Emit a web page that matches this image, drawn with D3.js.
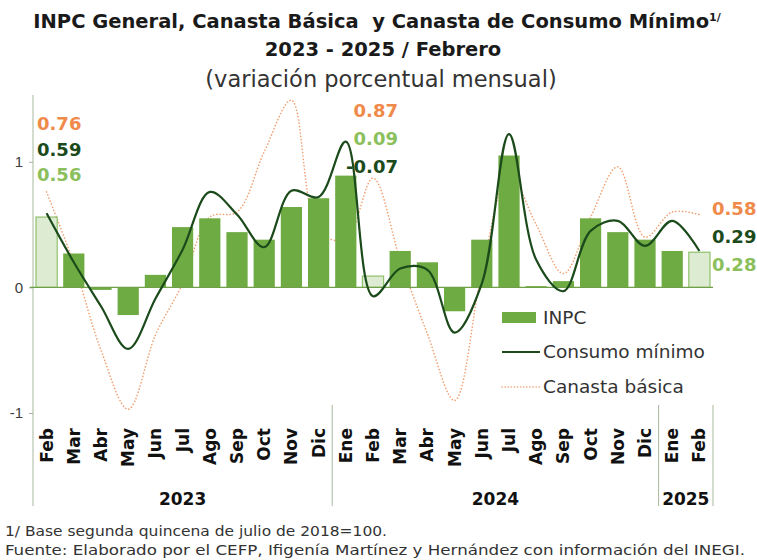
<!DOCTYPE html>
<html>
<head>
<meta charset="utf-8">
<script src="https://cdn.jsdelivr.net/npm/d3@7"></script>
<style>
  body { margin: 0; background: #fff; }
  text { font-family: "DejaVu Sans", sans-serif; white-space: pre; }
</style>
</head>
<body>
<div id="chart-area"></div>
<script>
const W = 757, H = 560
const MARGIN = { LEFT: 33, RIGHT: 44, TOP: 99, BOTTOM: 147 }

// Data
const months = ["Feb","Mar","Abr","May","Jun","Jul","Ago","Sep","Oct","Nov","Dic",
  "Ene","Feb","Mar","Abr","May","Jun","Jul","Ago","Sep","Oct","Nov","Dic",
  "Ene","Feb"]
const yearLabels = ["2023", "2024", "2025"]
const yearMonths = [11, 12, 2]
const inpc = [0.56,0.27,-0.02,-0.22,0.10,0.48,0.55,0.44,0.38,0.64,0.71,
  0.89,0.09,0.29,0.20,-0.19,0.38,1.05,0.01,0.05,0.55,0.44,0.38,
  0.29,0.28]
const consumo = [0.59,0.20,-0.15,-0.49,-0.09,0.30,0.76,0.58,0.32,0.77,0.72,
  1.16,-0.07,0.15,0.14,-0.36,0.03,1.22,0.22,-0.03,0.45,0.53,0.33,
  0.53,0.29]
const canasta = [0.76,0.19,-0.50,-0.97,-0.38,0.03,0.56,0.60,1.08,1.49,0.45,
  0.38,0.87,0.22,-0.37,-0.90,0.12,0.90,0.50,0.11,0.56,0.96,0.40,
  0.60,0.58]
const highlight = [0, 12, 24]   // months with value labels (Febrero)
const yTicks = [-1, 0, 1]

const C = { bar: "#6fab43", barLight: "#dcebd1", barLightStroke: "#8fc16b",
  consumo: "#1b4a1b", canasta: "#f0a070", orange: "#ef8a4a", light: "#8bbf5c" }

const svg = d3.select("#chart-area").append("svg")
  .attr("width", W).attr("height", H)

// Scales
const x = d3.scaleBand()
  .domain(d3.range(months.length))
  .range([MARGIN.LEFT, W - MARGIN.RIGHT])
  .paddingInner(0.22).paddingOuter(0.11)
const xStep = d3.scaleBand().domain(d3.range(months.length))
  .range([MARGIN.LEFT, W - MARGIN.RIGHT])
const y = d3.scaleLinear().domain([-1, 1.5]).range([413, MARGIN.TOP])
const cx = i => x(i) + x.bandwidth() / 2
const fmt = v => d3.format(".2f")(v).replace("−", "-")

// Title
svg.append("text").attr("x", 377).attr("y", 28).attr("text-anchor", "middle")
  .style("font-weight", "bold").style("font-size", "19.5px").attr("fill", "#1a1a1a")
  .text("INPC General, Canasta Básica  y Canasta de Consumo Mínimo")
  .append("tspan").attr("dy", -7).style("font-size", "11px").text("1/")
svg.append("text").attr("x", 383).attr("y", 56).attr("text-anchor", "middle")
  .style("font-weight", "bold").style("font-size", "19.5px").attr("fill", "#1a1a1a")
  .text("2023 - 2025 / Febrero")
svg.append("text").attr("x", 381).attr("y", 87).attr("text-anchor", "middle")
  .style("font-size", "22.5px").attr("fill", "#333")
  .text("(variación porcentual mensual)")

// Y axis
const yAxis = svg.append("g").attr("transform", `translate(${MARGIN.LEFT},0)`)
  .call(d3.axisLeft(y).tickValues(yTicks).tickSize(4).tickPadding(6).tickFormat(d => String(d)))
yAxis.select(".domain").remove()
yAxis.selectAll("line").attr("stroke", "#a8b8a0")
yAxis.selectAll("text").style("font-size", "15px").attr("fill", "#404040")
  .style("font-family", "'Liberation Sans', Arial, sans-serif")
svg.append("line").attr("x1", MARGIN.LEFT).attr("x2", MARGIN.LEFT)
  .attr("y1", MARGIN.TOP - 4).attr("y2", 506).attr("stroke", "#a8b8a0")

const line = d3.line().x((d, i) => cx(i)).y(d => y(d)).curve(d3.curveCatmullRom.alpha(0.5))

// Canasta básica (dotted, behind the bars)
svg.append("path").datum(canasta)
  .attr("d", line).attr("fill", "none")
  .attr("stroke", C.canasta).attr("stroke-width", 1.6)
  .attr("stroke-dasharray", "0.1,3.2").attr("stroke-linecap", "round")

// Bars
svg.append("g").selectAll("rect")
  .data(inpc)
  .join("rect")
  .attr("x", (d, i) => x(i))
  .attr("y", d => y(Math.max(0, d)))
  .attr("width", x.bandwidth())
  .attr("height", d => Math.abs(y(d) - y(0)))
  .attr("fill", (d, i) => highlight.includes(i) ? C.barLight : C.bar)
  .attr("stroke", (d, i) => highlight.includes(i) ? C.barLightStroke : "none")
  .attr("stroke-width", 1.2)

// Zero line
svg.append("line").attr("x1", MARGIN.LEFT - 3).attr("x2", W - MARGIN.RIGHT)
  .attr("y1", y(0)).attr("y2", y(0)).attr("stroke", "#6fa048").attr("stroke-width", 1.2)

// Consumo mínimo
svg.append("path").datum(consumo)
  .attr("d", line).attr("fill", "none")
  .attr("stroke", C.consumo).attr("stroke-width", 2.2)

// Value labels
const labelPos = [
  { x: 37, y: 130, step: 25.5, anchor: "start" },
  { x: 398, y: 117, step: 28, anchor: "end" },
  { x: 712, y: 215, step: 28, anchor: "start" }
]
highlight.forEach((idx, k) => {
  const rows = [
    { v: canasta[idx], c: C.orange },
    { v: consumo[idx], c: C.consumo },
    { v: inpc[idx], c: C.light }
  ].sort((a, b) => b.v - a.v)
  rows.forEach((r, j) => {
    svg.append("text")
      .attr("x", labelPos[k].x).attr("y", labelPos[k].y + j * labelPos[k].step)
      .attr("text-anchor", labelPos[k].anchor)
      .style("font-weight", "bold").style("font-size", "18px").attr("fill", r.c)
      .text(fmt(r.v))
  })
})

// Category labels
svg.append("g").selectAll("text")
  .data(months)
  .join("text")
  .attr("transform", (d, i) => `translate(${cx(i) + 6},428) rotate(-90)`)
  .attr("text-anchor", "end")
  .style("font-weight", "bold").style("font-size", "17px").attr("fill", "#111")
  .text(d => d)

// Year groups
let start = 0
yearLabels.forEach((yr, k) => {
  const x0 = xStep(start), x1 = xStep(start + yearMonths[k] - 1) + xStep.bandwidth()
  svg.append("line").attr("x1", x1).attr("x2", x1).attr("y1", 405).attr("y2", 506)
    .attr("stroke", "#a8b8a0")
  svg.append("text").attr("x", (x0 + x1) / 2).attr("y", 505).attr("text-anchor", "middle")
    .style("font-weight", "bold").style("font-size", "17px").attr("fill", "#111")
    .text(yr)
  start += yearMonths[k]
})

// Legend
const lg = svg.append("g").attr("transform", "translate(502,0)")
lg.append("rect").attr("x", 0).attr("y", 312).attr("width", 34).attr("height", 11).attr("fill", C.bar)
lg.append("line").attr("x1", 0).attr("x2", 38).attr("y1", 352).attr("y2", 352)
  .attr("stroke", C.consumo).attr("stroke-width", 2)
lg.append("line").attr("x1", 0).attr("x2", 38).attr("y1", 387).attr("y2", 387)
  .attr("stroke", C.canasta).attr("stroke-width", 1.6)
  .attr("stroke-dasharray", "0.1,3").attr("stroke-linecap", "round")
const legendText = ["INPC", "Consumo mínimo", "Canasta básica"]
legendText.forEach((t, i) => {
  lg.append("text").attr("x", 41).attr("y", [324, 358, 393][i])
    .style("font-size", "18.5px").attr("fill", "#333").text(t)
})

// Footer
svg.append("text").attr("x", 5).attr("y", 536)
  .style("font-family", "'DejaVu Sans Condensed', 'DejaVu Sans', sans-serif")
  .style("font-size", "14px").attr("fill", "#333")
  .attr("textLength", 382).attr("lengthAdjust", "spacingAndGlyphs")
  .text("1/ Base segunda quincena de julio de 2018=100.")
svg.append("text").attr("x", 5).attr("y", 555)
  .style("font-family", "'DejaVu Sans Condensed', 'DejaVu Sans', sans-serif")
  .style("font-size", "14px").attr("fill", "#333")
  .attr("textLength", 740).attr("lengthAdjust", "spacingAndGlyphs")
  .text("Fuente: Elaborado por el CEFP, Ifigenía Martínez y Hernández con información del INEGI.")
</script>
</body>
</html>
